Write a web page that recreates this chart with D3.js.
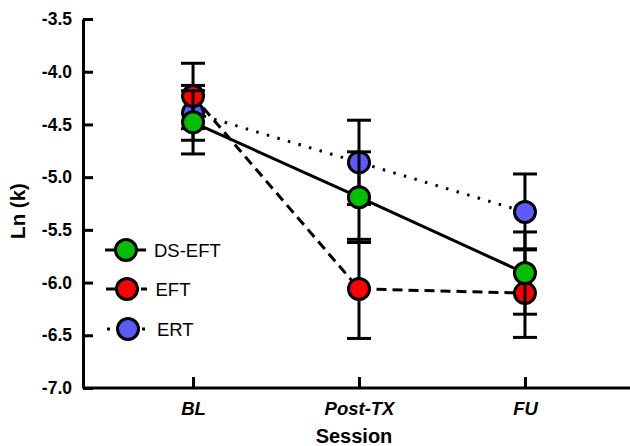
<!DOCTYPE html>
<html>
<head>
<meta charset="utf-8">
<script src="https://cdn.jsdelivr.net/npm/d3@7"></script>
<style>
  body { margin: 0; background: #fff; }
  svg { display: block; font-family: "Liberation Sans", Arial, Helvetica, sans-serif; }
</style>
</head>
<body>
<div id="chart"></div>
<script>
const sessions = ["BL", "Post-TX", "FU"];
const yTicks = [-7.0, -6.5, -6.0, -5.5, -5.0, -4.5, -4.0, -3.5];

const dsEftMean = [-4.48, -5.19, -5.91];
const dsEftSe = [0.30, 0.43, 0.39];
const eftMean = [-4.23, -6.06, -6.10];
const eftSe = [0.31, 0.47, 0.42];
const ertMean = [-4.39, -4.86, -5.33];
const ertSe = [0.26, 0.40, 0.36];

// drawing order: ERT at the bottom, DS-EFT on top
const series = [
  { name: "ERT", mean: ertMean, se: ertSe, fill: "#5b5bff", dash: "2.5,8.5" },
  { name: "EFT", mean: eftMean, se: eftSe, fill: "#ff0000", dash: "10,6" },
  { name: "DS-EFT", mean: dsEftMean, se: dsEftSe, fill: "#00bf00", dash: null }
];
const legendOrder = ["DS-EFT", "EFT", "ERT"];

const width = 630, height = 446;
const plotLeft = 83, plotRight = 635, plotTop = 19, plotBottom = 388;

const svg = d3.select("#chart").append("svg")
  .attr("width", width)
  .attr("height", height);

const x = d3.scalePoint()
  .domain(sessions)
  .range([plotLeft, plotRight])
  .padding(0.663);

const y = d3.scaleLinear()
  .domain([-7, -3.5])
  .range([plotBottom, plotTop]);

// axes
const yAxis = svg.append("g")
  .attr("transform", `translate(${plotLeft},0)`)
  .call(d3.axisLeft(y).tickValues(yTicks).tickFormat(d => d.toFixed(1))
    .tickSizeInner(-10).tickSizeOuter(0).tickPadding(11));
yAxis.selectAll("path, line").attr("stroke", "#000").attr("stroke-width", 3);
yAxis.selectAll("text")
  .attr("fill", "#000")
  .style("font-size", "17.5px")
  .style("font-weight", "bold");

const xAxis = svg.append("g")
  .attr("transform", `translate(0,${plotBottom})`)
  .call(d3.axisBottom(x).tickSizeInner(-11).tickSizeOuter(0).tickPadding(14));
xAxis.select(".domain").attr("d", `M${plotLeft},0H${width}`);
xAxis.selectAll("path, line").attr("stroke", "#000").attr("stroke-width", 3);
xAxis.selectAll("text")
  .attr("fill", "#000")
  .style("font-size", "18.5px")
  .style("font-weight", "bold")
  .style("font-style", "italic");

svg.append("text")
  .attr("x", 354)
  .attr("y", 443)
  .attr("text-anchor", "middle")
  .style("font-size", "20px")
  .style("font-weight", "bold")
  .text("Session");

svg.append("text")
  .attr("transform", "translate(25,211) rotate(-90)")
  .attr("text-anchor", "middle")
  .style("font-size", "20.5px")
  .style("font-weight", "bold")
  .text("Ln (k)");

// connecting lines
const line = d3.line()
  .x((d, i) => x(sessions[i]))
  .y(d => y(d));

series.forEach(s => {
  svg.append("path")
    .datum(s.mean)
    .attr("d", line)
    .attr("fill", "none")
    .attr("stroke", "#000")
    .attr("stroke-width", 3)
    .attr("stroke-dasharray", s.dash);
});

// error bars + markers
const cap = 12;
series.forEach(s => {
  const g = svg.append("g");
  s.mean.forEach((m, i) => {
    const cx = x(sessions[i]);
    const hi = y(m + s.se[i]), lo = y(m - s.se[i]);
    g.append("line").attr("x1", cx).attr("x2", cx).attr("y1", hi).attr("y2", lo)
      .attr("stroke", "#000").attr("stroke-width", 3);
    [hi, lo].forEach(yy => {
      g.append("line").attr("x1", cx - cap).attr("x2", cx + cap).attr("y1", yy).attr("y2", yy)
        .attr("stroke", "#000").attr("stroke-width", 3);
    });
  });
  g.selectAll("circle")
    .data(s.mean)
    .enter()
    .append("circle")
    .attr("cx", (d, i) => x(sessions[i]))
    .attr("cy", d => y(d))
    .attr("r", 10.5)
    .attr("fill", s.fill)
    .attr("stroke", "#000")
    .attr("stroke-width", 3);
});

// legend
const legendY = [250, 289, 329];
legendOrder.forEach((name, i) => {
  const s = series.find(d => d.name === name);
  const g = svg.append("g").attr("transform", `translate(0,${legendY[i]})`);
  if (s.dash === null) {
    g.append("line").attr("x1", 105).attr("x2", 146).attr("stroke", "#000").attr("stroke-width", 3);
  } else if (s.name === "EFT") {
    g.append("line").attr("x1", 106).attr("x2", 115).attr("stroke", "#000").attr("stroke-width", 3);
    g.append("line").attr("x1", 141).attr("x2", 147).attr("stroke", "#000").attr("stroke-width", 3);
  } else {
    g.append("line").attr("x1", 107).attr("x2", 110).attr("stroke", "#000").attr("stroke-width", 3);
    g.append("line").attr("x1", 142).attr("x2", 145).attr("stroke", "#000").attr("stroke-width", 3);
  }
  g.append("circle")
    .attr("cx", 126 + i)
    .attr("cy", 0)
    .attr("r", 10.5)
    .attr("fill", s.fill)
    .attr("stroke", "#000")
    .attr("stroke-width", 3);
  g.append("text")
    .attr("x", 154 + i * 1.5)
    .attr("dy", "0.36em")
    .style("font-size", "18.5px")
    .text(s.name);
});
</script>
</body>
</html>
